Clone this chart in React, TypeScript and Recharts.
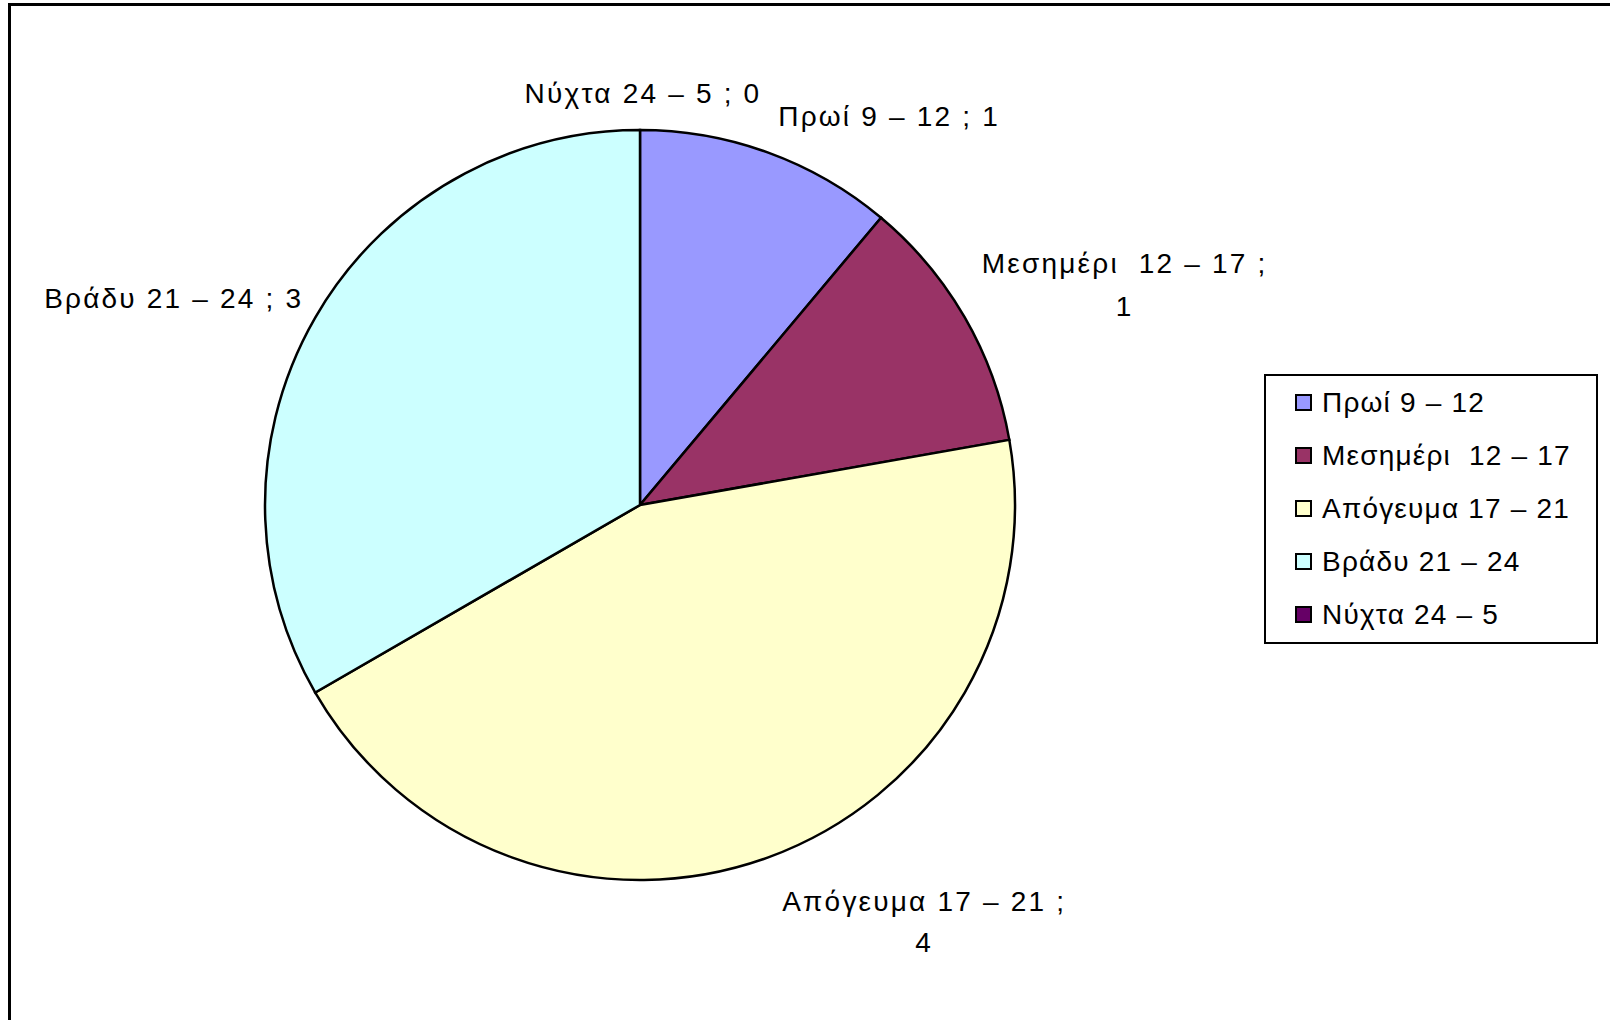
import React from 'react'
import { PieChart, Pie, Cell, Legend } from 'recharts'

// time-of-day slices and their counts
const categories = ['Πρωί 9 – 12', 'Μεσημέρι  12 – 17', 'Απόγευμα 17 – 21', 'Βράδυ 21 – 24', 'Νύχτα 24 – 5']
const counts = [1, 1, 4, 3, 0]
const colors = ['#9999FF', '#993366', '#FFFFCC', '#CCFFFF', '#660066']

const FONT = '"Liberation Sans", Arial, Helvetica, sans-serif'
const RAD = Math.PI / 180

// how each data label sits relative to the point just outside its slice
// (dx/dy: nudge per text row, anchor: text-anchor, split: value on its own row)
const labelLayout = [
  { anchor: 'start', dx: -3, dy: [-1], split: false },
  { anchor: 'middle', dx: 127, dy: [-36, 7], split: true },
  { anchor: 'middle', dx: 143, dy: [8, 49], split: true },
  { anchor: 'end', dx: 21, dy: [-1], split: false },
  { anchor: 'middle', dx: 3, dy: [1], split: false },
]

const data = categories.map((name, i) => ({ name, value: counts[i] }))

function renderLabel(props: any) {
  const { cx, cy, midAngle, outerRadius, index, name, value } = props
  const r = outerRadius + 38
  const x = cx + r * Math.cos(-midAngle * RAD)
  const y = cy + r * Math.sin(-midAngle * RAD)
  const lay = labelLayout[index]
  const rows = lay.split ? [`${name} ;`, `${value}`] : [`${name} ; ${value}`]
  return (
    <text
      key={`lbl-${index}`}
      textAnchor={lay.anchor}
      dominantBaseline="central"
      fontSize={28}
      fontFamily={FONT}
      letterSpacing={2.2}
      fill="#000"
      style={{ whiteSpace: 'pre' }}
    >
      {rows.map((t, k) => (
        <tspan key={k} x={x + lay.dx} y={y + lay.dy[k]}>
          {t}
        </tspan>
      ))}
    </text>
  )
}

function LegendBox(props: any) {
  const items = [...(props.payload || [])].sort(
    (a: any, b: any) => categories.indexOf(a.value) - categories.indexOf(b.value),
  )
  return (
    <div
      style={{
        border: '2px solid #000',
        background: '#fff',
        width: 334,
        height: 270,
        boxSizing: 'border-box',
        padding: '0 0 0 29px',
        fontFamily: FONT,
        fontSize: 28,
        letterSpacing: 1.2,
        color: '#000',
      }}
    >
      {items.map((p: any, i: number) => (
        <div key={i} style={{ display: 'flex', alignItems: 'center', height: 53 }}>
          <span
            style={{
              display: 'inline-block',
              width: 17,
              height: 17,
              background: p.color,
              border: '2px solid #000',
              boxSizing: 'border-box',
              marginRight: 10,
            }}
          />
          <span style={{ whiteSpace: 'pre' }}>{p.value}</span>
        </div>
      ))}
    </div>
  )
}

export default function App() {
  return (
    <div style={{ position: 'absolute', left: 0, top: 0, width: 1610, height: 1020, background: '#fff', overflow: 'hidden' }}>
      {/* chart area frame, only top and left edges are in view */}
      <div
        style={{
          position: 'absolute',
          left: 8,
          top: 3,
          width: 1700,
          height: 1100,
          borderTop: '3px solid #000',
          borderLeft: '3px solid #000',
        }}
      />
      <PieChart
        width={1610}
        height={1020}
        margin={{ top: 0, right: 0, bottom: 0, left: 0 }}
        style={{ position: 'absolute', left: 0, top: 0 }}
      >
        <Pie
          data={data}
          dataKey="value"
          nameKey="name"
          cx={640}
          cy={505}
          outerRadius={375}
          startAngle={90}
          endAngle={-270}
          stroke="#000"
          strokeWidth={2.5}
          label={renderLabel}
          labelLine={false}
          isAnimationActive={false}
        >
          {data.map((d, i) => (
            <Cell key={d.name} fill={colors[i]} />
          ))}
        </Pie>
        <Legend
          layout="vertical"
          align="right"
          verticalAlign="top"
          content={<LegendBox />}
          wrapperStyle={{ left: 1264, top: 374, width: 334 }}
        />
      </PieChart>
    </div>
  )
}
